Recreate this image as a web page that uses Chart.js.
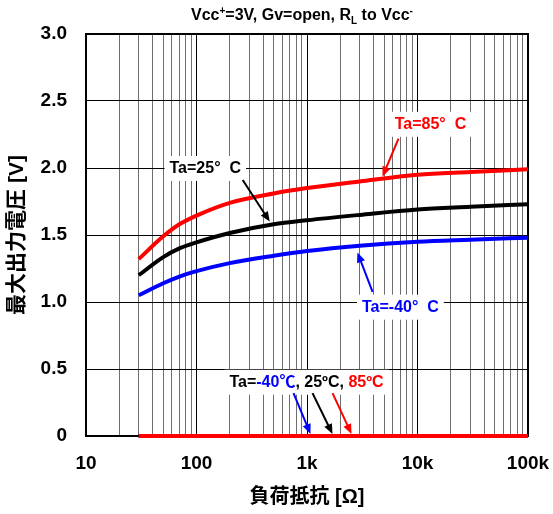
<!DOCTYPE html>
<html>
<head>
<meta charset="utf-8">
<script src="https://cdn.jsdelivr.net/npm/chart.js@4.4.1/dist/chart.umd.min.js"></script>
<style>
  html, body { margin: 0; padding: 0; background: #fff; }
  #wrap { width: 553px; height: 514px; }
</style>
</head>
<body>
<div id="wrap"><canvas id="c" width="553" height="514"></canvas></div>
<script>
// Load resistance [Ω]
const resistance = [30, 50, 70, 100, 200, 500, 1000, 3000, 10000, 30000, 100000];
// Maximum output voltage [V] per ambient temperature
const vout85 = [1.32, 1.49, 1.58, 1.645, 1.74, 1.81, 1.85, 1.90, 1.95, 1.97, 1.99];
const vout25 = [1.20, 1.335, 1.40, 1.445, 1.515, 1.58, 1.61, 1.65, 1.69, 1.71, 1.73];
const voutM40 = [1.05, 1.14, 1.19, 1.23, 1.29, 1.345, 1.38, 1.42, 1.45, 1.465, 1.48];
// Low-side output (all temperatures)
const voutLow = [0, 0, 0, 0, 0, 0, 0, 0, 0, 0, 0];

const xTickValues = [10, 100, 1000, 10000, 100000];
const xTickLabels = ['10', '100', '1k', '10k', '100k'];
const yTickValues = [0, 0.5, 1.0, 1.5, 2.0, 2.5, 3.0];
const yTickLabels = ['0', '0.5', '1.0', '1.5', '2.0', '2.5', '3.0'];

const FONT = "'Liberation Sans', Arial, 'Noto Sans CJK JP', sans-serif";
const RED = '#ff0000', BLUE = '#0000ff', BLACK = '#000000';

const pts = (ys) => resistance.map((x, i) => ({ x, y: ys[i] }));

// minor decade grid: 1..9 × 10^n
const gridValues = [];
for (let e = 1; e <= 4; e++) for (let m = 1; m <= 9; m++) gridValues.push(m * Math.pow(10, e));
gridValues.push(100000);
const isDecade = v => xTickValues.includes(v);

// callouts (positions given in data units)
const callouts = [
  { parts: [['Ta=25°  C', BLACK]], at: [120, 2.0], arrows: [[[262, 1.91], [460, 1.60], BLACK]] },
  { parts: [['Ta=85°  C', RED]], at: [13100, 2.33], arrows: [[[6730, 2.22], [4820, 1.935], RED]] },
  { parts: [['Ta=-40°  C', BLUE]], at: [7000, 0.965], arrows: [[[3920, 1.075], [2860, 1.37], BLUE]] },
  { parts: [['Ta=', BLACK], ['-40℃', BLUE], [', 25ºC, ', BLACK], ['85ºC', RED]], at: [990, 0.405],
    arrows: [[[755, 0.32], [1076, 0.015], BLUE], [[1122, 0.32], [1702, 0.015], BLACK], [[1702, 0.32], [2528, 0.015], RED]] }
];

function drawArrow(ctx, x1, y1, x2, y2, color) {
  const a = Math.atan2(y2 - y1, x2 - x1), head = 10, w = 4.2;
  ctx.save();
  ctx.strokeStyle = color; ctx.fillStyle = color; ctx.lineWidth = 2;
  ctx.beginPath();
  ctx.moveTo(x1, y1);
  ctx.lineTo(x2 - Math.cos(a) * head * 0.7, y2 - Math.sin(a) * head * 0.7);
  ctx.stroke();
  ctx.beginPath();
  ctx.moveTo(x2, y2);
  ctx.lineTo(x2 - head * Math.cos(a) + w * Math.sin(a), y2 - head * Math.sin(a) - w * Math.cos(a));
  ctx.lineTo(x2 - head * Math.cos(a) - w * Math.sin(a), y2 - head * Math.sin(a) + w * Math.cos(a));
  ctx.closePath();
  ctx.fill();
  ctx.restore();
}

const overlay = {
  id: 'overlay',
  beforeDatasetsDraw(chart) {
    const { ctx, chartArea: a } = chart;
    ctx.save();
    ctx.strokeStyle = '#000'; ctx.lineWidth = 2;
    ctx.strokeRect(a.left, a.top, a.right - a.left, a.bottom - a.top);
    ctx.restore();
  },
  afterDatasetsDraw(chart) {
    const { ctx } = chart;
    const xs = chart.scales.x, ys = chart.scales.y;
    ctx.save();
    ctx.font = 'bold 16px ' + FONT;
    ctx.textBaseline = 'middle';
    callouts.forEach(c => {
      const cx = xs.getPixelForValue(c.at[0]), cy = ys.getPixelForValue(c.at[1]);
      const widths = c.parts.map(p => ctx.measureText(p[0]).width);
      const total = widths.reduce((s, w) => s + w, 0);
      ctx.fillStyle = '#fff';
      ctx.fillRect(cx - total / 2 - 5, cy - 12, total + 10, 25);
      let x = cx - total / 2;
      ctx.textAlign = 'left';
      c.parts.forEach((p, i) => { ctx.fillStyle = p[1]; ctx.fillText(p[0], x, cy + 1); x += widths[i]; });
      c.arrows.forEach(ar => {
        drawArrow(ctx, xs.getPixelForValue(ar[0][0]), ys.getPixelForValue(ar[0][1]),
          xs.getPixelForValue(ar[1][0]), ys.getPixelForValue(ar[1][1]), ar[2]);
      });
    });
    ctx.restore();
  },
  afterDraw(chart) {
    // heading: Vcc+=3V, Gv=open, RL to Vcc-
    const { ctx } = chart;
    const big = 'bold 16px ' + FONT, small = 'bold 10px ' + FONT;
    const segs = [['Vcc', big, 0], ['+', small, -6], ['=3V, Gv=open, R', big, 0], ['L', small, 4], [' to Vcc', big, 0], ['-', small, -6]];
    ctx.save();
    ctx.textBaseline = 'alphabetic'; ctx.textAlign = 'left'; ctx.fillStyle = '#000';
    let total = 0;
    segs.forEach(s => { ctx.font = s[1]; total += ctx.measureText(s[0]).width; });
    const a = chart.chartArea;
    let x = (a.left + a.right) / 2 - total / 2 - 5;
    segs.forEach(s => { ctx.font = s[1]; ctx.fillText(s[0], x, 20 + s[2]); x += ctx.measureText(s[0]).width; });
    ctx.restore();
  }
};

const lineDs = (label, ys, color) => ({
  label, data: pts(ys), borderColor: color, backgroundColor: color,
  borderWidth: 4, pointRadius: 0, cubicInterpolationMode: 'monotone', fill: false, clip: false
});

new Chart(document.getElementById('c'), {
  type: 'line',
  data: {
    // first dataset is painted on top
    datasets: [
      lineDs('Low 85°C', voutLow, RED),
      lineDs('Low 25°C', voutLow, BLACK),
      lineDs('Low -40°C', voutLow, BLUE),
      lineDs('Ta=85°C', vout85, RED),
      lineDs('Ta=25°C', vout25, BLACK),
      lineDs('Ta=-40°C', voutM40, BLUE)
    ]
  },
  options: {
    responsive: false,
    animation: false,
    layout: { padding: { top: 34, right: 25, left: 0, bottom: 0 } },
    plugins: { legend: { display: false }, tooltip: { enabled: false } },
    scales: {
      x: {
        type: 'logarithmic', min: 10, max: 100000,
        afterBuildTicks: s => { s.ticks = gridValues.map(v => ({ value: v, major: isDecade(v) })); },
        afterFit: s => { s.height = 78; s.paddingLeft = 0; s.paddingRight = 0; },
        ticks: {
          autoSkip: false, maxRotation: 0, padding: 16, color: '#000',
          font: { family: FONT, size: 19, weight: 'bold' },
          callback: v => { const i = xTickValues.indexOf(v); return i >= 0 ? xTickLabels[i] : ''; }
        },
        grid: { drawTicks: false, lineWidth: 1, color: c => (c.tick && isDecade(c.tick.value)) ? '#000' : '#6e6e6e' },
        border: { display: false },
        title: { display: true, text: '負荷抵抗 [Ω]', color: '#000', padding: { top: 0, bottom: 5 },
          font: { family: FONT, size: 20, weight: 'bold' } }
      },
      y: {
        min: 0, max: 3,
        afterBuildTicks: s => { s.ticks = yTickValues.map(v => ({ value: v })); },
        afterFit: s => { s.width = 86; },
        ticks: {
          padding: 19, color: '#000',
          font: { family: FONT, size: 19, weight: 'bold' },
          callback: v => { const i = yTickValues.indexOf(v); return i >= 0 ? yTickLabels[i] : ''; }
        },
        grid: { drawTicks: false, lineWidth: 1, color: '#000' },
        border: { display: false },
        title: { display: true, text: '最大出力電圧 [V]', color: '#000', padding: { top: 5, bottom: 0 },
          font: { family: FONT, size: 21, weight: 'bold' } }
      }
    }
  },
  plugins: [overlay]
});
</script>
</body>
</html>
